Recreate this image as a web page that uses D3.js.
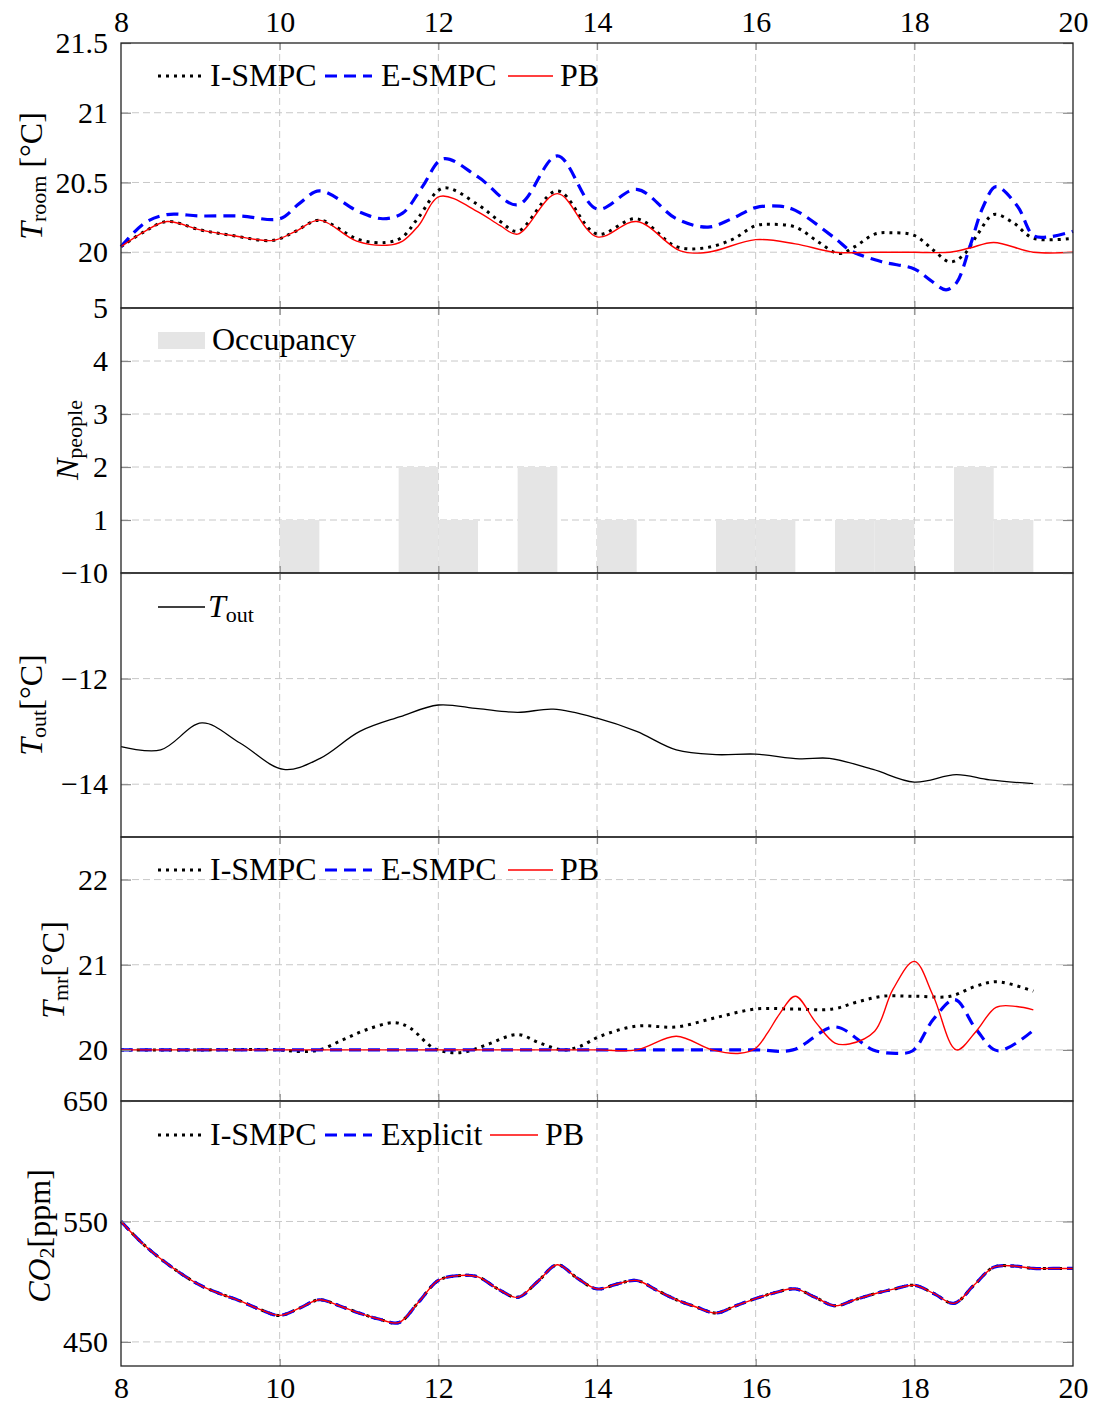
<!DOCTYPE html>
<html><head><meta charset="utf-8">
<script src="https://cdn.jsdelivr.net/npm/d3@7"></script>
<style>
body{margin:0;background:#fff}
svg text{font-family:"Liberation Serif","Times New Roman",serif !important;fill:#000}
</style>
</head><body>
<svg id="c" width="1100" height="1405"></svg>
<script>
// ---------------- DATA ----------------
const hourTicks = [8, 10, 12, 14, 16, 18, 20];

// Panel 1: room temperature
const troomTicks = [20, 20.5, 21, 21.5];
const troomISMPC_t = [8, 8.3, 8.58, 9, 9.4, 9.92, 10.2, 10.5, 11.0, 11.35, 11.55, 11.75, 12.06, 12.5, 12.78, 13.0, 13.5, 14.0, 14.5, 15.0, 15.35, 15.7, 16.0, 16.2, 16.5, 16.8, 17.05, 17.25, 17.5, 17.7, 18.0, 18.25, 18.45, 18.62, 18.8, 19.0, 19.25, 19.5, 20.0];
const troomISMPC_v = [20.04, 20.15, 20.22, 20.16, 20.12, 20.085, 20.15, 20.23, 20.09, 20.07, 20.11, 20.25, 20.46, 20.34, 20.22, 20.15, 20.44, 20.13, 20.24, 20.04, 20.03, 20.09, 20.19, 20.20, 20.18, 20.07, 19.99, 20.04, 20.13, 20.14, 20.12, 20.01, 19.93, 19.98, 20.13, 20.27, 20.21, 20.10, 20.10];
const troomESMPC_t = [8, 8.3, 8.58, 9, 9.5, 10.0, 10.25, 10.5, 11.0, 11.3, 11.55, 11.8, 12.06, 12.5, 13.0, 13.5, 14.0, 14.5, 15.0, 15.4, 15.7, 16.0, 16.3, 16.5, 17.0, 17.2, 17.6, 18.0, 18.2, 18.4, 18.53, 18.7, 18.87, 19.03, 19.3, 19.5, 19.7, 20.0];
const troomESMPC_v = [20.04, 20.21, 20.27, 20.26, 20.26, 20.24, 20.35, 20.44, 20.29, 20.24, 20.28, 20.47, 20.67, 20.54, 20.34, 20.69, 20.31, 20.45, 20.24, 20.18, 20.24, 20.32, 20.33, 20.30, 20.10, 20.01, 19.93, 19.88, 19.80, 19.73, 19.78, 20.04, 20.33, 20.47, 20.33, 20.12, 20.11, 20.15];
const troomPB_t = [8, 8.3, 8.58, 9, 9.4, 9.92, 10.2, 10.5, 10.97, 11.35, 11.55, 11.75, 12.02, 12.5, 12.78, 13.0, 13.5, 14.0, 14.5, 15.05, 15.4, 16.0, 16.5, 17.0, 17.5, 18.0, 18.45, 18.7, 19.0, 19.5, 20.0];
const troomPB_v = [20.04, 20.15, 20.22, 20.16, 20.12, 20.085, 20.15, 20.23, 20.08, 20.05, 20.08, 20.19, 20.40, 20.29, 20.19, 20.13, 20.42, 20.11, 20.22, 20.01, 20.0, 20.09, 20.06, 20.0, 20.0, 20.0, 20.0, 20.03, 20.07, 20.0, 20.0];

// Panel 2: occupancy (half-hour slots)
const occTicks = [1, 2, 3, 4, 5];
const occStart = [10, 11.5, 12, 13, 14, 15.5, 16, 17, 17.5, 18.5, 19];
const occPeople = [1, 2, 1, 2, 1, 1, 1, 1, 1, 2, 1];

// Panel 3: outdoor temperature
const toutTicks = [-10, -12, -14];
const tout_t = [8, 8.5, 9.02, 9.5, 10.05, 10.51, 11.01, 11.52, 12.0, 12.5, 13.0, 13.45, 14.0, 14.5, 15.0, 15.5, 16.0, 16.55, 16.93, 17.48, 18.0, 18.53, 18.95, 19.5];
const tout_v = [-13.29, -13.35, -12.84, -13.22, -13.72, -13.51, -13.0, -12.72, -12.50, -12.57, -12.64, -12.58, -12.75, -13.0, -13.35, -13.44, -13.43, -13.52, -13.51, -13.72, -13.96, -13.82, -13.92, -13.99];

// Panel 4: mean radiant temperature
const tmrTicks = [20, 21, 22];
const tmrISMPC_t = [8, 9, 10, 10.26, 10.5, 10.8, 11.1, 11.45, 11.64, 11.94, 12.15, 12.36, 12.61, 13.0, 13.28, 13.57, 13.78, 14.04, 14.5, 15.0, 15.5, 16.0, 16.47, 16.97, 17.27, 17.6, 18.0, 18.45, 18.78, 19.05, 19.5];
const tmrISMPC_v = [20, 20, 20, 19.98, 20.0, 20.12, 20.24, 20.32, 20.26, 20.02, 19.97, 19.98, 20.06, 20.18, 20.08, 20.0, 20.04, 20.16, 20.28, 20.27, 20.38, 20.48, 20.48, 20.48, 20.56, 20.63, 20.63, 20.63, 20.75, 20.8, 20.69];
const tmrESMPC_t = [8, 10, 12, 14, 15, 16.0, 16.47, 17.0, 17.48, 17.77, 17.98, 18.24, 18.51, 18.78, 19.05, 19.5];
const tmrESMPC_v = [20, 20, 20, 20, 20, 20.0, 20.0, 20.27, 20.0, 19.96, 19.99, 20.36, 20.59, 20.24, 19.99, 20.23];
const tmrPB_t = [8, 10, 12, 14, 14.5, 15.0, 15.45, 15.8, 16.0, 16.15, 16.3, 16.5, 16.76, 17.0, 17.18, 17.5, 17.73, 18.0, 18.24, 18.53, 18.78, 19.03, 19.29, 19.5];
const tmrPB_v = [20, 20, 20, 20, 20, 20.16, 20.0, 19.96, 20.02, 20.2, 20.42, 20.63, 20.32, 20.08, 20.07, 20.22, 20.71, 21.04, 20.63, 20.0, 20.22, 20.5, 20.51, 20.47];

// Panel 5: CO2 (the three controllers overlap)
const co2Ticks = [450, 550, 650];
const co2_t = [8, 8.25, 8.5, 8.75, 9, 9.25, 9.5, 9.75, 10, 10.25, 10.5, 10.75, 11, 11.25, 11.5, 11.75, 12, 12.25, 12.5, 12.75, 13, 13.25, 13.5, 13.75, 14, 14.25, 14.5, 14.75, 15, 15.25, 15.5, 15.75, 16, 16.25, 16.5, 16.75, 17, 17.25, 17.5, 17.75, 18, 18.25, 18.5, 18.75, 19, 19.25, 19.5, 19.75, 20];
const co2ISMPC_v = [550, 533, 519, 507, 497, 490, 484, 477, 472, 478, 485, 480, 474, 469, 466, 483, 501, 505, 504, 494, 487, 500, 514, 503, 494, 498, 501, 493, 485, 479, 474, 480, 486, 491, 494, 487, 480, 485, 490, 494, 497, 490, 482, 497, 512, 513, 511, 511, 511];
const co2Explicit_v = co2ISMPC_v;
const co2PB_v = co2ISMPC_v;

// ---------------- DRAWING ----------------
const FONT = '"Liberation Serif", "Times New Roman", serif';
const svg = d3.select("#c");
const L = 121, R = 1073;
const tops = [43, 308, 573, 837, 1101, 1366];
const x = d3.scaleLinear().domain([8, 20]).range([L, R]);

const styles = {
  ismpc: {stroke: "#000", w: 3, dash: "3,5"},
  esmpc: {stroke: "#0000ff", w: 3.2, dash: "12,7"},
  pb:    {stroke: "#ff0000", w: 1.4, dash: null},
  tout:  {stroke: "#000", w: 1.3, dash: null}
};

function applyStyle(sel, s) {
  sel.attr("fill", "none").attr("stroke", s.stroke).attr("stroke-width", s.w);
  if (s.dash) sel.attr("stroke-dasharray", s.dash);
}

function panel(i, domain, ticks, fmt) {
  const y0 = tops[i], y1 = tops[i + 1];
  const y = d3.scaleLinear().domain(domain).range([y1, y0]);
  const g = svg.append("g");
  const gg = g.append("g").attr("stroke", "#c8c8c8").attr("stroke-width", 1).attr("stroke-dasharray", "7,4");
  hourTicks.filter(h => h > 8 && h < 20).forEach(h => {
    gg.append("line").attr("x1", x(h)).attr("x2", x(h)).attr("y1", y0).attr("y2", y1);
  });
  ticks.forEach(t => {
    const yy = y(t);
    if (Math.abs(yy - y0) > 1 && Math.abs(yy - y1) > 1)
      gg.append("line").attr("x1", L).attr("x2", R).attr("y1", yy).attr("y2", yy);
  });
  return {g, y, y0, y1, fmt, ticks};
}

function finishPanel(p) {
  const {g, y, y0, y1, fmt, ticks} = p;
  const ax = g.append("g").attr("transform", `translate(${L},0)`)
    .call(d3.axisLeft(y).tickValues(ticks).tickSize(-10).tickPadding(13).tickFormat(fmt));
  ax.attr("font-family", null);
  ax.select(".domain").remove();
  ax.selectAll(".tick line").attr("stroke", "#888").attr("stroke-width", 1.2);
  ax.selectAll(".tick text").attr("font-size", 30).style("font-family", FONT).attr("fill", "#000");
  const axr = g.append("g").attr("transform", `translate(${R},0)`)
    .call(d3.axisRight(y).tickValues(ticks).tickSize(-10).tickFormat(""));
  axr.select(".domain").remove();
  axr.selectAll(".tick line").attr("stroke", "#888").attr("stroke-width", 1.2);
  const inner = hourTicks.filter(h => h > 8 && h < 20);
  const axt = g.append("g").attr("transform", `translate(0,${y0})`)
    .call(d3.axisTop(x).tickValues(inner).tickSize(-7).tickFormat(""));
  axt.select(".domain").remove();
  axt.selectAll(".tick line").attr("stroke", "#888").attr("stroke-width", 1.2);
  const axb = g.append("g").attr("transform", `translate(0,${y1})`)
    .call(d3.axisBottom(x).tickValues(inner).tickSize(-7).tickFormat(""));
  axb.select(".domain").remove();
  axb.selectAll(".tick line").attr("stroke", "#888").attr("stroke-width", 1.2);
  g.append("rect").attr("x", L).attr("y", y0).attr("width", R - L).attr("height", y1 - y0)
    .attr("fill", "none").attr("stroke", "#222").attr("stroke-width", 1.3);
}

function drawSeries(p, ts, vs, s) {
  const data = ts.map((t, k) => [t, vs[k]]);
  const line = d3.line().x(d => x(d[0])).y(d => p.y(d[1])).curve(d3.curveCatmullRom.alpha(0.5));
  p.g.append("path").datum(data).attr("d", line).call(applyStyle, s);
}

function legend(items, baseY) {
  const g = svg.append("g");
  items.forEach(it => {
    if (it.rect) {
      g.append("rect").attr("x", it.x0).attr("y", baseY - 18).attr("width", it.x1 - it.x0).attr("height", 17).attr("fill", "#e5e5e5");
    } else {
      g.append("line").attr("x1", it.x0).attr("x2", it.x1).attr("y1", baseY - 10).attr("y2", baseY - 10).call(applyStyle, it.s);
    }
    const t = g.append("text").attr("x", it.tx).attr("y", baseY).attr("font-size", 32).style("font-family", FONT);
    if (it.sub) {
      t.append("tspan").attr("font-style", "italic").text(it.label);
      t.append("tspan").attr("font-size", 22).attr("dy", 5).text(it.sub);
    } else t.text(it.label);
  });
}

function ylabel(cx, cy, parts) {
  const t = svg.append("text").attr("transform", `translate(${cx},${cy}) rotate(-90)`)
    .attr("text-anchor", "middle").attr("font-size", 32).style("font-family", FONT);
  parts.forEach(pp => {
    const s = t.append("tspan").text(pp.t);
    if (pp.it) s.attr("font-style", "italic");
    if (pp.sub) s.attr("font-size", 22).attr("dy", pp.dy);
    else if (pp.dy) s.attr("dy", pp.dy);
  });
}

const fmtT = d => (d === Math.round(d) ? d3.format("d")(d) : d3.format(".1f")(d));

// Panel 1
const p1 = panel(0, [19.6, 21.5], troomTicks, fmtT);
drawSeries(p1, troomISMPC_t, troomISMPC_v, styles.ismpc);
drawSeries(p1, troomESMPC_t, troomESMPC_v, styles.esmpc);
drawSeries(p1, troomPB_t, troomPB_v, styles.pb);
finishPanel(p1);

// Panel 2
const p2 = panel(1, [0, 5], occTicks, d3.format("d"));
p2.g.append("g").selectAll("rect").data(occStart.map((s, k) => [s, occPeople[k]])).join("rect")
  .attr("x", d => x(d[0])).attr("width", d => x(d[0] + 0.5) - x(d[0]))
  .attr("y", d => p2.y(d[1])).attr("height", d => p2.y(0) - p2.y(d[1]))
  .attr("fill", "#e5e5e5");
finishPanel(p2);

// Panel 3
const p3 = panel(2, [-15, -10], toutTicks, d3.format("d"));
drawSeries(p3, tout_t, tout_v, styles.tout);
finishPanel(p3);

// Panel 4
const p4 = panel(3, [19.4, 22.5], tmrTicks, d3.format("d"));
drawSeries(p4, tmrISMPC_t, tmrISMPC_v, styles.ismpc);
drawSeries(p4, tmrESMPC_t, tmrESMPC_v, styles.esmpc);
drawSeries(p4, tmrPB_t, tmrPB_v, styles.pb);
finishPanel(p4);

// Panel 5
const p5 = panel(4, [430, 650], co2Ticks, d3.format("d"));
drawSeries(p5, co2_t, co2ISMPC_v, styles.ismpc);
drawSeries(p5, co2_t, co2Explicit_v, styles.esmpc);
drawSeries(p5, co2_t, co2PB_v, styles.pb);
finishPanel(p5);

// x-axis labels top & bottom
const xt = svg.append("g").attr("transform", `translate(0,${tops[0]})`)
  .call(d3.axisTop(x).tickValues(hourTicks).tickSize(0).tickPadding(11).tickFormat(d3.format("d")));
xt.select(".domain").remove();
xt.selectAll("text").attr("font-size", 30).style("font-family", FONT).attr("fill", "#000");
const xb = svg.append("g").attr("transform", `translate(0,${tops[5]})`)
  .call(d3.axisBottom(x).tickValues(hourTicks).tickSize(0).tickPadding(11).tickFormat(d3.format("d")));
xb.select(".domain").remove();
xb.selectAll("text").attr("font-size", 30).style("font-family", FONT).attr("fill", "#000");

// legends
legend([
  {x0: 158, x1: 205, s: styles.ismpc, tx: 210, label: "I-SMPC"},
  {x0: 325, x1: 372, s: styles.esmpc, tx: 381, label: "E-SMPC"},
  {x0: 508, x1: 553, s: styles.pb, tx: 560, label: "PB"}
], 86);
legend([{rect: true, x0: 158, x1: 205, tx: 212, label: "Occupancy"}], 350);
legend([{x0: 158, x1: 205, s: styles.tout, tx: 208, label: "T", sub: "out"}], 617);
legend([
  {x0: 158, x1: 205, s: styles.ismpc, tx: 210, label: "I-SMPC"},
  {x0: 325, x1: 372, s: styles.esmpc, tx: 381, label: "E-SMPC"},
  {x0: 508, x1: 553, s: styles.pb, tx: 560, label: "PB"}
], 880);
legend([
  {x0: 158, x1: 205, s: styles.ismpc, tx: 210, label: "I-SMPC"},
  {x0: 325, x1: 372, s: styles.esmpc, tx: 381, label: "Explicit"},
  {x0: 490, x1: 538, s: styles.pb, tx: 545, label: "PB"}
], 1145);

// y labels
ylabel(42, 176, [{t: "T", it: true}, {t: "room", sub: true, dy: 4}, {t: " [°C]", dy: -4}]);
ylabel(78, 440, [{t: "N", it: true}, {t: "people", sub: true, dy: 4}]);
ylabel(42, 705, [{t: "T", it: true}, {t: "out", sub: true, dy: 4}, {t: "[°C]", dy: -4}]);
ylabel(64, 970, [{t: "T", it: true}, {t: "mr", sub: true, dy: 4}, {t: "[°C]", dy: -4}]);
ylabel(50, 1236, [{t: "CO", it: true}, {t: "2", sub: true, dy: 4}, {t: "[ppm]", dy: -4}]);
</script>
</body></html>
